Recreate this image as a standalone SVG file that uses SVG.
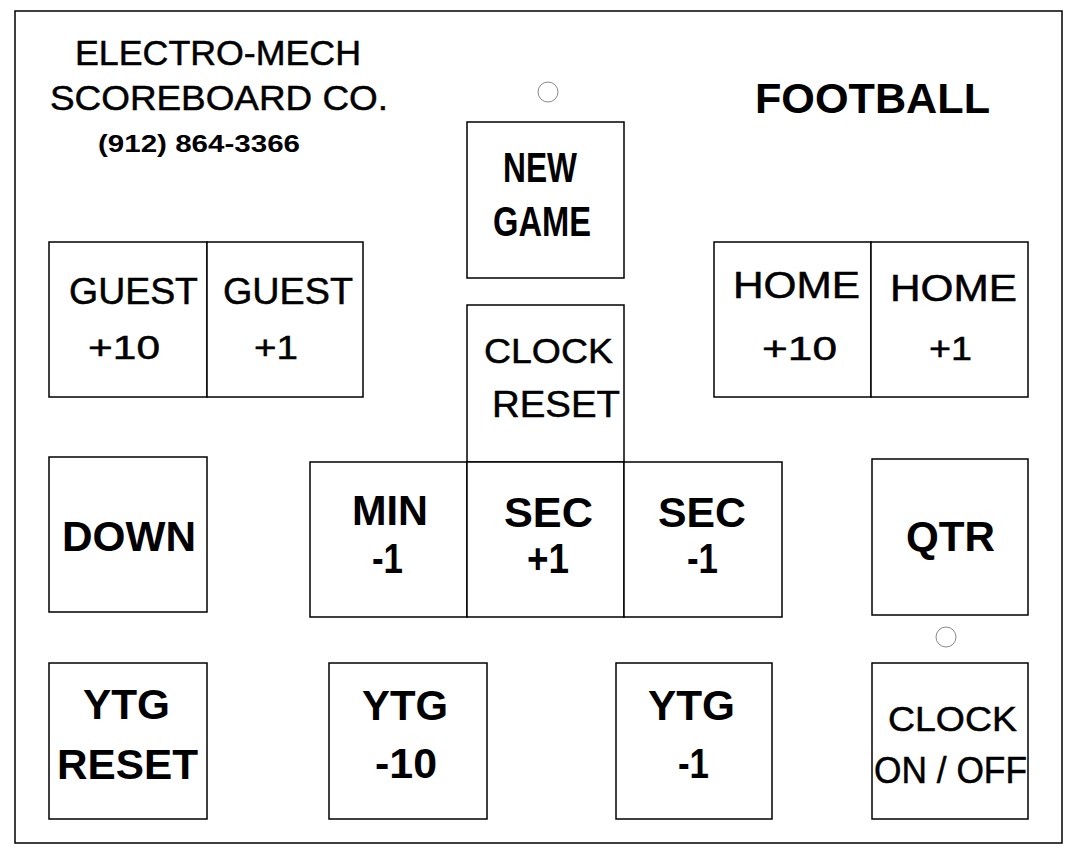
<svg xmlns="http://www.w3.org/2000/svg" width="1078" height="862" viewBox="0 0 1078 862">
<style>
.frame{fill:#fff;stroke:#000;stroke-width:1.5}
.btn{fill:#fff;stroke:#000;stroke-width:1.5}
.hole{fill:#fff;stroke:#888;stroke-width:1}
.r{font-family:"Liberation Sans",Arial,sans-serif;font-weight:normal;fill:#000;stroke:#000;stroke-width:0.5}
.b{font-family:"Liberation Sans",Arial,sans-serif;font-weight:bold;fill:#000}
</style>
<rect x="0" y="0" width="1078" height="862" fill="#fff"/>
<rect id="panel" class="frame" x="15" y="11" width="1047" height="832"/>

<g id="header">
<text class="r" x="75" y="65" font-size="35" textLength="286" lengthAdjust="spacingAndGlyphs">ELECTRO-MECH</text>
<text class="r" x="50" y="110" font-size="35" textLength="338" lengthAdjust="spacingAndGlyphs">SCOREBOARD CO.</text>
<text class="b" x="98" y="152" font-size="24" textLength="202" lengthAdjust="spacingAndGlyphs">(912) 864-3366</text>
<text class="b" x="755" y="113" font-size="42" textLength="235" lengthAdjust="spacingAndGlyphs">FOOTBALL</text>
</g>

<g id="holes">
<circle class="hole" cx="548" cy="92" r="10"/>
<circle class="hole" cx="946" cy="637" r="10"/>
</g>

<g id="new-game">
<rect class="btn" x="467" y="122" width="157" height="156"/>
<text class="b" x="503" y="182" font-size="42" textLength="74" lengthAdjust="spacingAndGlyphs">NEW</text>
<text class="b" x="493" y="236" font-size="42" textLength="98" lengthAdjust="spacingAndGlyphs">GAME</text>
</g>

<g id="guest-10">
<rect class="btn" x="49" y="242" width="158" height="155"/>
<text class="r" x="69" y="304" font-size="36" textLength="129" lengthAdjust="spacingAndGlyphs">GUEST</text>
<text class="r" x="88" y="359" font-size="34" textLength="72" lengthAdjust="spacingAndGlyphs">+10</text>
</g>
<g id="guest-1">
<rect class="btn" x="207" y="242" width="156" height="155"/>
<text class="r" x="223" y="304" font-size="36" textLength="130" lengthAdjust="spacingAndGlyphs">GUEST</text>
<text class="r" x="254" y="359" font-size="34" textLength="44" lengthAdjust="spacingAndGlyphs">+1</text>
</g>

<g id="home-10">
<rect class="btn" x="714" y="242" width="157" height="155"/>
<text class="r" x="733" y="298" font-size="36" textLength="127" lengthAdjust="spacingAndGlyphs">HOME</text>
<text class="r" x="762" y="360" font-size="34" textLength="75" lengthAdjust="spacingAndGlyphs">+10</text>
</g>
<g id="home-1">
<rect class="btn" x="871" y="242" width="157" height="155"/>
<text class="r" x="890" y="301" font-size="36" textLength="127" lengthAdjust="spacingAndGlyphs">HOME</text>
<text class="r" x="929" y="360" font-size="34" textLength="43" lengthAdjust="spacingAndGlyphs">+1</text>
</g>

<g id="clock-reset">
<rect class="btn" x="467" y="305" width="157" height="157"/>
<text class="r" x="484" y="363" font-size="35" textLength="129" lengthAdjust="spacingAndGlyphs">CLOCK</text>
<text class="r" x="492" y="417" font-size="37" textLength="128" lengthAdjust="spacingAndGlyphs">RESET</text>
</g>

<g id="min-1">
<rect class="btn" x="310" y="462" width="157" height="155"/>
<text class="b" x="352" y="525" font-size="43" textLength="76" lengthAdjust="spacingAndGlyphs">MIN</text>
<text class="b" x="372" y="573" font-size="43" textLength="31" lengthAdjust="spacingAndGlyphs">-1</text>
</g>
<g id="sec+1">
<rect class="btn" x="467" y="462" width="157" height="155"/>
<text class="b" x="504" y="527" font-size="43" textLength="89" lengthAdjust="spacingAndGlyphs">SEC</text>
<text class="b" x="527" y="573" font-size="43" textLength="42" lengthAdjust="spacingAndGlyphs">+1</text>
</g>
<g id="sec-1">
<rect class="btn" x="624" y="462" width="158" height="155"/>
<text class="b" x="658" y="527" font-size="43" textLength="88" lengthAdjust="spacingAndGlyphs">SEC</text>
<text class="b" x="687" y="573" font-size="43" textLength="31" lengthAdjust="spacingAndGlyphs">-1</text>
</g>

<g id="down">
<rect class="btn" x="49" y="457" width="158" height="155"/>
<text class="b" x="62" y="551" font-size="42" textLength="134" lengthAdjust="spacingAndGlyphs">DOWN</text>
</g>

<g id="qtr">
<rect class="btn" x="872" y="459" width="156" height="156"/>
<text class="b" x="906" y="551" font-size="42" textLength="89" lengthAdjust="spacingAndGlyphs">QTR</text>
</g>

<g id="ytg-reset">
<rect class="btn" x="49" y="663" width="158" height="156"/>
<text class="b" x="83" y="719" font-size="42" textLength="87" lengthAdjust="spacingAndGlyphs">YTG</text>
<text class="b" x="57" y="779" font-size="42" textLength="141" lengthAdjust="spacingAndGlyphs">RESET</text>
</g>

<g id="ytg-10">
<rect class="btn" x="329" y="663" width="158" height="156"/>
<text class="b" x="362" y="720" font-size="42" textLength="86" lengthAdjust="spacingAndGlyphs">YTG</text>
<text class="b" x="375" y="778" font-size="42" textLength="62" lengthAdjust="spacingAndGlyphs">-10</text>
</g>

<g id="ytg-1">
<rect class="btn" x="616" y="663" width="156" height="156"/>
<text class="b" x="648" y="720" font-size="42" textLength="87" lengthAdjust="spacingAndGlyphs">YTG</text>
<text class="b" x="678" y="778" font-size="42" textLength="31" lengthAdjust="spacingAndGlyphs">-1</text>
</g>

<g id="clock-on-off">
<rect class="btn" x="872" y="663" width="156" height="156"/>
<text class="r" x="888" y="731" font-size="35" textLength="129" lengthAdjust="spacingAndGlyphs">CLOCK</text>
<text class="r" x="874" y="783" font-size="36" textLength="153" lengthAdjust="spacingAndGlyphs">ON / OFF</text>
</g>
</svg>
